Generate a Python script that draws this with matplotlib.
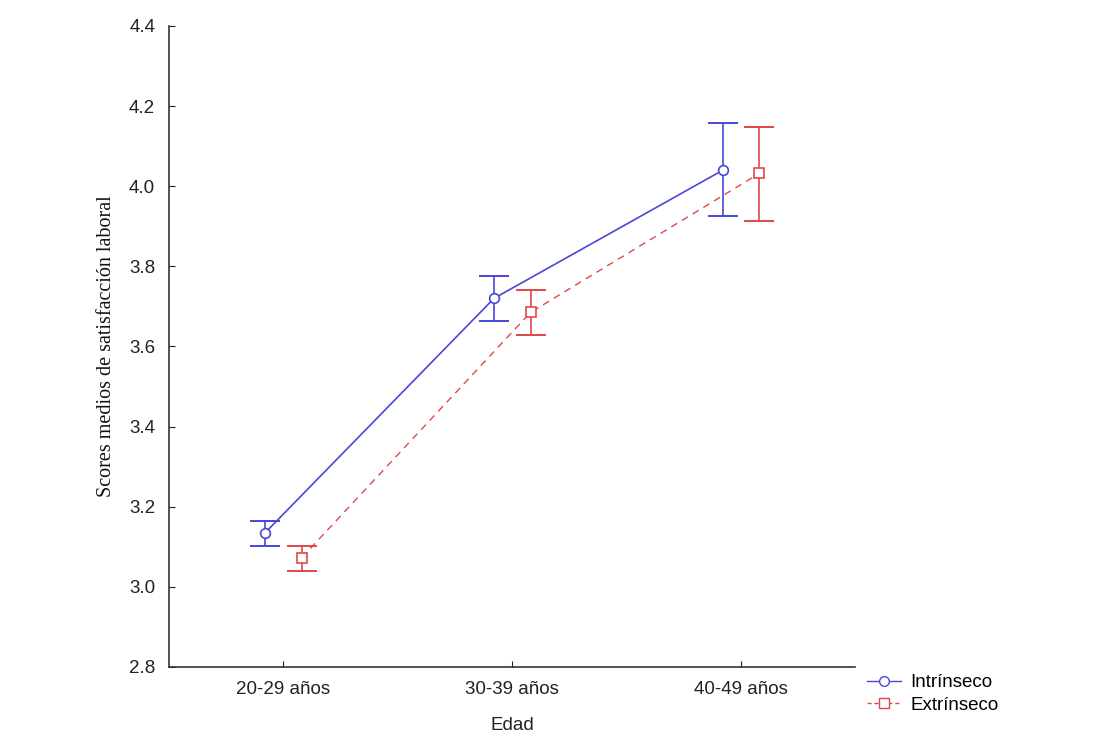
import numpy as np
import matplotlib.pyplot as plt

# Scores medios por grupo de edad
categorias = ['20-29 años', '30-39 años', '40-49 años']
intrinseco = [3.135, 3.72, 4.04]
intrinseco_sup = [3.165, 3.775, 4.158]
intrinseco_inf = [3.103, 3.663, 3.925]
extrinseco = [3.073, 3.685, 4.032]
extrinseco_sup = [3.103, 3.74, 4.148]
extrinseco_inf = [3.04, 3.628, 3.913]

x = np.arange(len(categorias))
off = 0.08

fig = plt.figure(figsize=(11.1, 7.51), dpi=100)
ax = fig.add_axes([0.1523, 0.1119, 0.6184, 0.8535])

azul = '#4848d8'
rojo = '#e04848'

ax.plot(x - off, intrinseco, color=azul, linewidth=1.2, zorder=3)
ax.plot(x + off, extrinseco, color=rojo, linewidth=1.0, linestyle=(0, (5, 4)), zorder=3)

yi = np.array(intrinseco)
ye = np.array(extrinseco)
ax.errorbar(x - off, yi, yerr=[yi - np.array(intrinseco_inf), np.array(intrinseco_sup) - yi],
            fmt='none', ecolor=azul, elinewidth=1.2, capsize=11, capthick=1.4, zorder=2)
ax.errorbar(x + off, ye, yerr=[ye - np.array(extrinseco_inf), np.array(extrinseco_sup) - ye],
            fmt='none', ecolor=rojo, elinewidth=1.2, capsize=11, capthick=1.4, zorder=2)
ax.plot(x - off, intrinseco, linestyle='none', marker='o', markersize=7,
        markerfacecolor='white', markeredgecolor=azul, markeredgewidth=1.2, zorder=4)
ax.plot(x + off, extrinseco, linestyle='none', marker='s', markersize=6.5,
        markerfacecolor='white', markeredgecolor=rojo, markeredgewidth=1.2, zorder=4)

# Legend handles
ax.plot([], [], color=azul, marker='o', markerfacecolor='white', markersize=7,
        linewidth=1.0, label='Intrínseco')
ax.plot([], [], color=rojo, marker='s', markerfacecolor='white', markersize=7,
        linewidth=1.0, linestyle=(0, (3, 2)), label='Extrínseco')
handles, labels = ax.get_legend_handles_labels()
leg = fig.legend(handles, labels, loc='upper left', bbox_to_anchor=(0.766, 0.125),
                 frameon=False, handlelength=1.8, handletextpad=0.5,
                 labelspacing=0.3, prop={'family': 'Liberation Sans', 'size': 13.5})

ax.set_xlim(-0.5, 2.5)
ax.set_ylim(2.8, 4.4)
ax.set_xticks(x)
ax.set_xticklabels(categorias, fontsize=13.5, family='Liberation Sans', color='#222222')
ax.set_yticks(np.arange(2.8, 4.41, 0.2))
ax.set_yticklabels([f'{v:.1f}' for v in np.arange(2.8, 4.41, 0.2)],
                   fontsize=13.5, family='Liberation Sans', color='#222222')
ax.tick_params(direction='in', length=4, width=0.8, colors='#222222', pad=10)
ax.tick_params(axis='x', pad=10)
for s in ['top', 'right']:
    ax.spines[s].set_visible(False)
for s in ['left', 'bottom']:
    ax.spines[s].set_linewidth(1.2)
    ax.spines[s].set_color('#333333')

ax.set_xlabel('Edad', fontsize=13.5, family='Liberation Sans', color='#222222', labelpad=14)
ax.set_ylabel('Scores medios de satisfacción laboral', fontsize=14.5,
              family='Liberation Serif', color='#111111', labelpad=9)

fig.savefig('out.png', dpi=100)
